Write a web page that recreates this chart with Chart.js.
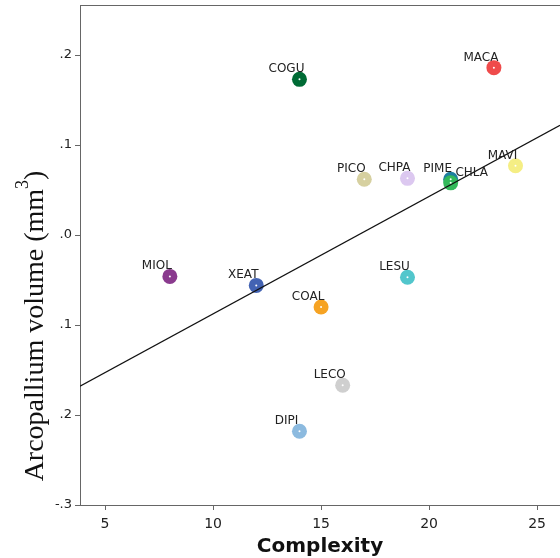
<!DOCTYPE html>
<html>
<head>
<meta charset="utf-8">
<script src="https://cdn.jsdelivr.net/npm/chart.js@4/dist/chart.umd.min.js"></script>
<style>
  html, body { margin: 0; padding: 0; background: #fff; overflow: hidden; }
  #wrap { width: 560px; height: 558px; position: relative; }
  canvas { display: block; }
</style>
</head>
<body>
<div id="wrap"><canvas id="chart"></canvas></div>
<script>
// species codes, complexity score, arcopallium volume residual
const species = ['COGU', 'MACA', 'PICO', 'CHPA', 'PIME', 'CHLA', 'MAVI', 'MIOL', 'XEAT', 'COAL', 'LESU', 'LECO', 'DIPI'];
const complexity = [14, 23, 17, 19, 21, 21, 24, 8, 12, 15, 19, 16, 14];
const volume = [0.173, 0.186, 0.062, 0.063, 0.062, 0.058, 0.077, -0.046, -0.056, -0.080, -0.047, -0.167, -0.218];
const pointColors = ['#006b35', '#ef4b4b', '#d6d0a0', '#dcc8f0', '#1f7fa0', '#33b95a', '#f5ee84', '#8a3a8e', '#4363b3', '#f6a323', '#52c6cc', '#cfcfcf', '#8cbadf'];

// fitted regression line, read at both plot edges
const fitX = [3.84, 26.06];
const fitY = [-0.168, 0.122];

const xTicks = [5, 10, 15, 20, 25];
const yTicks = [-0.3, -0.2, -0.1, 0, 0.1, 0.2];
const yTickLabels = ['-.3', '.2', '.1', '.0', '.1', '.2'];

// labels that sit to the right of their point instead of above-left
const labelShift = { CHLA: 21 };

const decorations = {
    id: 'decorations',
    afterDatasetsDraw(chart) {
        const { ctx, chartArea } = chart;
        const meta = chart.getDatasetMeta(1);
        ctx.save();

        // top frame line
        ctx.strokeStyle = '#666';
        ctx.lineWidth = 1;
        ctx.beginPath();
        ctx.moveTo(chartArea.left, chartArea.top + 0.5);
        ctx.lineTo(chartArea.right, chartArea.top + 0.5);
        ctx.stroke();

        // white centre dots + point names
        ctx.font = '12px "DejaVu Sans"';
        ctx.textAlign = 'center';
        ctx.textBaseline = 'alphabetic';
        meta.data.forEach((pt, i) => {
            ctx.fillStyle = '#fff';
            ctx.beginPath();
            ctx.arc(pt.x, pt.y, 1, 0, Math.PI * 2);
            ctx.fill();

            const dx = labelShift[species[i]] !== undefined ? labelShift[species[i]] : -13;
            ctx.fillStyle = '#222';
            ctx.fillText(species[i], pt.x + dx, pt.y - 7);
        });

        // y title (serif, with superscript 3)
        ctx.translate(36, 326);
        ctx.rotate(-Math.PI / 2);
        ctx.fillStyle = '#111';
        const main = 'Arcopallium volume (mm';
        ctx.font = '28px "Liberation Serif"';
        const w1 = ctx.measureText(main).width;
        const w3 = ctx.measureText(')').width;
        ctx.font = '18px "Liberation Serif"';
        const w2 = ctx.measureText('3').width;
        const total = w1 + w2 + w3;
        let x = -total / 2;
        ctx.textAlign = 'left';
        ctx.textBaseline = 'middle';
        ctx.font = '28px "Liberation Serif"';
        ctx.fillText(main, x, 0);
        x += w1;
        ctx.font = '18px "Liberation Serif"';
        ctx.fillText('3', x, -13);
        x += w2;
        ctx.font = '28px "Liberation Serif"';
        ctx.fillText(')', x, 0);
        ctx.restore();

        // x title
        ctx.save();
        ctx.font = 'bold 20px "DejaVu Sans"';
        ctx.fillStyle = '#111';
        ctx.textAlign = 'center';
        ctx.textBaseline = 'alphabetic';
        ctx.fillText('Complexity', (chartArea.left + chartArea.right) / 2, 552);
        ctx.restore();
    }
};

new Chart(document.getElementById('chart'), {
    type: 'scatter',
    data: {
        datasets: [
            {
                type: 'line',
                data: fitX.map((x, i) => ({ x, y: fitY[i] })),
                borderColor: '#111',
                borderWidth: 1.2,
                pointRadius: 0,
                fill: false,
                order: 0,
            },
            {
                data: complexity.map((x, i) => ({ x, y: volume[i] })),
                backgroundColor: pointColors,
                borderColor: pointColors,
                borderWidth: 0,
                pointRadius: 7.5,
                order: 1,
            }
        ]
    },
    options: {
        responsive: true,
        maintainAspectRatio: false,
        animation: false,
        layout: { autoPadding: false, padding: { top: 5, right: 0, left: 0, bottom: 0 } },
        plugins: { legend: { display: false }, tooltip: { enabled: false } },
        scales: {
            x: {
                type: 'linear',
                min: 3.84,
                max: 26.06,
                afterBuildTicks: (scale) => { scale.ticks = xTicks.map(v => ({ value: v })); },
                afterFit: (scale) => {
                    scale.height = 53;
                    scale.paddingLeft = 0;
                    scale.paddingRight = 0;
                },
                grid: { drawOnChartArea: false, drawTicks: true, tickLength: 5, color: '#666' },
                border: { display: true, color: '#666', width: 1 },
                ticks: { color: '#222', font: { family: 'DejaVu Sans', size: 14 }, padding: 6, maxRotation: 0 },
            },
            y: {
                type: 'linear',
                min: -0.3,
                max: 0.2556,
                afterBuildTicks: (scale) => { scale.ticks = yTicks.map(v => ({ value: v })); },
                afterFit: (scale) => {
                    scale.width = 80;
                    scale.paddingTop = 0;
                    scale.paddingBottom = 0;
                },
                grid: { drawOnChartArea: false, drawTicks: true, tickLength: 5, color: '#666' },
                border: { display: true, color: '#666', width: 1 },
                ticks: {
                    color: '#222',
                    font: { family: 'DejaVu Sans', size: 13 },
                    padding: 3,
                    callback: (value) => {
                        const idx = yTicks.findIndex(t => Math.abs(t - value) < 1e-6);
                        return idx >= 0 ? yTickLabels[idx] : '';
                    }
                },
            }
        }
    },
    plugins: [decorations]
});
</script>
</body>
</html>
